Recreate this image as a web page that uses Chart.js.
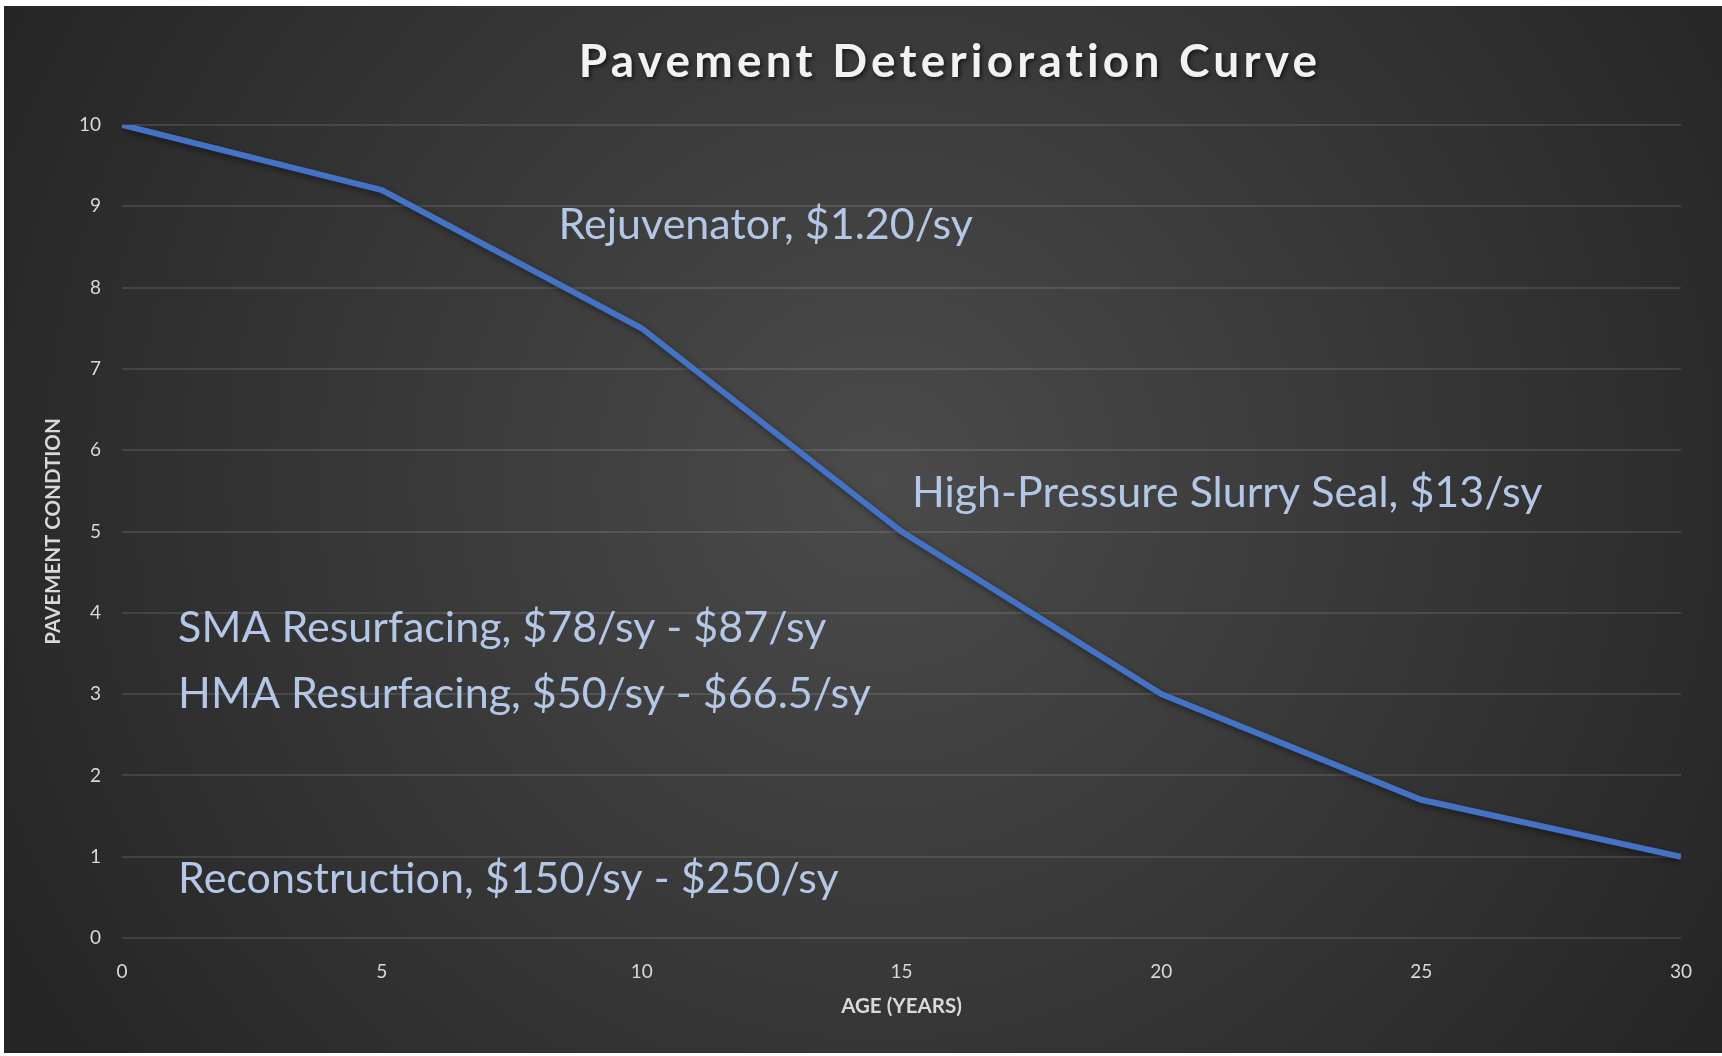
<!DOCTYPE html>
<html>
<head>
<meta charset="utf-8">
<title>Pavement Deterioration Curve</title>
<script src="https://cdn.jsdelivr.net/npm/chart.js@4/dist/chart.umd.min.js"></script>
<style>
  html, body { margin: 0; padding: 0; background: #fff; }
  #wrap { width: 1722px; height: 1056px; position: relative; }
</style>
</head>
<body>
<div id="wrap"><canvas id="chart" width="1722" height="1056"></canvas></div>
<script>
// data
const ages = [0, 5, 10, 15, 20, 25, 30];
const condition = [10, 9.2, 7.5, 5, 3, 1.7, 1];
const xTicks = [0, 5, 10, 15, 20, 25, 30];
const yTicks = [0, 1, 2, 3, 4, 5, 6, 7, 8, 9, 10];

// treatment notes, anchored in data units (left edge, middle of text)
const noteTexts = [
  "Rejuvenator, $1.20/sy",
  "High-Pressure Slurry Seal, $13/sy",
  "SMA Resurfacing, $78/sy - $87/sy",
  "HMA Resurfacing, $50/sy - $66.5/sy",
  "Reconstruction, $150/sy - $250/sy"
];
const noteX = [8.4, 15.2, 1.08, 1.08, 1.08];
const noteY = [8.77, 5.47, 3.81, 3.0, 0.72];

const FONT = "Lato, 'Open Sans', sans-serif";

const backdrop = {
  id: "backdrop",
  beforeDraw(chart) {
    const ctx = chart.ctx;
    ctx.save();
    const g = ctx.createRadialGradient(880, 480, 0, 880, 480, 1000);
    g.addColorStop(0, "#4b4b4b");
    g.addColorStop(1, "#252525");
    ctx.fillStyle = g;
    ctx.fillRect(4, 6, 1718, 1047);
    ctx.restore();
  }
};

const lineShadow = {
  id: "lineShadow",
  beforeDatasetDraw(chart) {
    const ctx = chart.ctx;
    ctx.save();
    ctx.shadowColor = "rgba(0,0,0,0.45)";
    ctx.shadowBlur = 6;
    ctx.shadowOffsetX = 2;
    ctx.shadowOffsetY = 3;
  },
  afterDatasetDraw(chart) {
    chart.ctx.restore();
  }
};

const notes = {
  id: "notes",
  afterDatasetsDraw(chart) {
    const ctx = chart.ctx;
    const xs = chart.scales.x, ys = chart.scales.y;
    ctx.save();
    ctx.font = "43px " + FONT;
    ctx.fillStyle = "#b4c7e7";
    ctx.textBaseline = "middle";
    ctx.textAlign = "left";
    noteTexts.forEach((t, i) => {
      ctx.fillText(t, xs.getPixelForValue(noteX[i]), ys.getPixelForValue(noteY[i]));
    });

    // chart title
    ctx.font = "bold 46px " + FONT;
    ctx.textAlign = "center";
    ctx.fillStyle = "#f2f2f2";
    ctx.shadowColor = "rgba(0,0,0,0.6)";
    ctx.shadowBlur = 4;
    ctx.shadowOffsetX = 2;
    ctx.shadowOffsetY = 2;
    if ("letterSpacing" in ctx) ctx.letterSpacing = "4.2px";
    ctx.fillText("Pavement Deterioration Curve", 950, 62);
    ctx.restore();
  }
};

new Chart(document.getElementById("chart"), {
  type: "line",
  data: {
    datasets: [{
      label: "Pavement Condition",
      data: ages.map((a, i) => ({ x: a, y: condition[i] })),
      borderColor: "#4472c4",
      borderWidth: 6,
      pointRadius: 0,
      fill: false,
      tension: 0
    }]
  },
  options: {
    responsive: false,
    animation: false,
    layout: { padding: { top: 125, right: 41, bottom: 0, left: 0 } },
    plugins: {
      legend: { display: false },
      tooltip: { enabled: false }
    },
    scales: {
      x: {
        type: "linear",
        min: 0,
        max: 30,
        afterBuildTicks: s => { s.ticks = xTicks.map(v => ({ value: v })); },
        afterFit: s => { s.height = 118; },
        grid: { display: false, drawTicks: false },
        border: { display: false },
        ticks: { color: "#d9d9d9", font: { family: FONT, size: 19 }, padding: 22 },
        title: {
          display: true,
          text: "AGE (YEARS)",
          color: "#d9d9d9",
          font: { family: FONT, size: 20.5, weight: "bold" },
          padding: { bottom: 37 }
        }
      },
      y: {
        min: 0,
        max: 10,
        afterBuildTicks: s => { s.ticks = yTicks.map(v => ({ value: v })); },
        afterFit: s => { s.width = 122; },
        grid: { color: "rgba(255,255,255,0.11)", lineWidth: 2, drawTicks: false },
        border: { display: false },
        ticks: { color: "#d9d9d9", font: { family: FONT, size: 19 }, padding: 21 },
        title: {
          display: true,
          text: "PAVEMENT CONDTION",
          color: "#d9d9d9",
          font: { family: FONT, size: 20.5, weight: "bold" },
          padding: { top: 41 }
        }
      }
    }
  },
  plugins: [backdrop, lineShadow, notes]
});
</script>
</body>
</html>
